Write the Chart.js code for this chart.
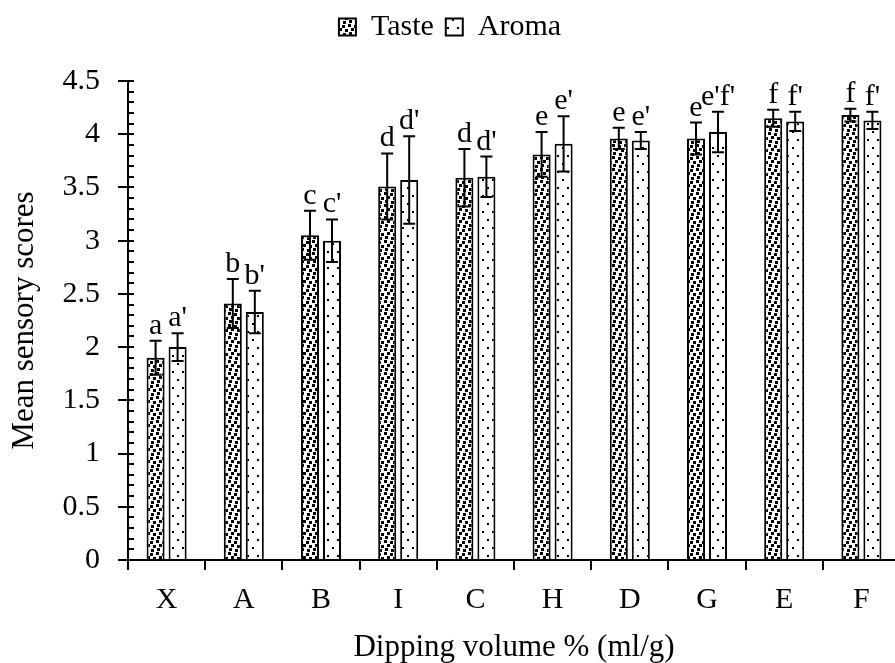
<!DOCTYPE html>
<html>
<head>
<meta charset="utf-8">
<script src="https://cdn.jsdelivr.net/npm/chart.js@4.4.1/dist/chart.umd.min.js"></script>
<style>
  html, body { margin: 0; padding: 0; background: #fff; overflow: hidden; }
  canvas { display: block; }
</style>
</head>
<body>
<canvas id="c" width="900" height="663"></canvas>
<script>
// ---- data ----
const categories = ['X', 'A', 'B', 'I', 'C', 'H', 'D', 'G', 'E', 'F'];
const tasteValues = [1.90, 2.41, 3.05, 3.51, 3.59, 3.81, 3.96, 3.96, 4.15, 4.18];
const tasteErrors = [0.16, 0.23, 0.23, 0.31, 0.27, 0.21, 0.10, 0.15, 0.08, 0.06];
const aromaValues = [2.00, 2.33, 3.00, 3.57, 3.60, 3.91, 3.94, 4.02, 4.12, 4.13];
const aromaErrors = [0.13, 0.20, 0.20, 0.41, 0.19, 0.26, 0.08, 0.19, 0.09, 0.08];
const tasteLetters = ['a', 'b', 'c', 'd', 'd', 'e', 'e', 'e', 'f', 'f'];
const aromaLetters = ["a'", "b'", "c'", "d'", "d'", "e'", "e'", "e'f'", "f'", "f'"];
const yTickValues = [0, 0.5, 1, 1.5, 2, 2.5, 3, 3.5, 4, 4.5];
const yTickLabels = ['0', '0.5', '1', '1.5', '2', '2.5', '3', '3.5', '4', '4.5'];
const seriesNames = ['Taste', 'Aroma'];
const xTitle = 'Dipping volume % (ml/g)';
const yTitle = 'Mean sensory scores';

// ---- patterns ----
function makeTastePattern() {
  const c = document.createElement('canvas');
  c.width = 12; c.height = 12;
  const g = c.getContext('2d');
  g.fillStyle = '#fff'; g.fillRect(0, 0, 12, 12);
  g.fillStyle = '#000';
  g.fillRect(0, 0, 3, 3);
  g.fillRect(6, 1, 3, 3);
  g.fillRect(3, 4, 3, 3);
  g.fillRect(9, 5, 3, 3);
  g.fillRect(1, 8, 3, 3);
  g.fillRect(7, 9, 3, 3);
  return g.createPattern(c, 'repeat');
}
function makeAromaPattern() {
  const c = document.createElement('canvas');
  c.width = 10; c.height = 16;
  const g = c.getContext('2d');
  g.fillStyle = '#fff'; g.fillRect(0, 0, 10, 16);
  g.fillStyle = '#000';
  g.fillRect(2, 3, 2, 2);
  g.fillRect(7, 11, 2, 2);
  return g.createPattern(c, 'repeat');
}

const FONT = "'Liberation Serif', 'Times New Roman', serif";
const errorSets = [tasteErrors, aromaErrors];
const letterSets = [tasteLetters, aromaLetters];

const legendFitPlugin = {
  id: 'legendFit',
  beforeLayout(chart) {
    const lg = chart.legend;
    if (lg && !lg._patched) {
      const orig = lg.fit.bind(lg);
      lg.fit = function () { orig(); this.height = 81; };
      lg._patched = true;
    }
  }
};

const decorPlugin = {
  id: 'decor',
  afterDatasetsDraw(chart) {
    const ctx = chart.ctx;
    const y = chart.scales.y;
    const area = chart.chartArea;
    ctx.save();
    // inward minor ticks every 0.1
    ctx.strokeStyle = '#000';
    ctx.lineWidth = 2;
    for (let k = 0; k <= 45; k++) {
      const py = Math.round(y.getPixelForValue(k / 10));
      ctx.beginPath();
      ctx.moveTo(area.left, py);
      ctx.lineTo(area.left + 6, py);
      ctx.stroke();
    }
    // error bars and letters
    chart.data.datasets.forEach((ds, di) => {
      const meta = chart.getDatasetMeta(di);
      meta.data.forEach((bar, j) => {
        const v = ds.data[j];
        const e = errorSets[di][j];
        const yt = y.getPixelForValue(v + e);
        const yb = y.getPixelForValue(v - e);
        const x = bar.x;
        ctx.strokeStyle = '#000';
        ctx.lineWidth = 2;
        ctx.beginPath();
        ctx.moveTo(x, yt); ctx.lineTo(x, yb);
        ctx.moveTo(x - 6, yt); ctx.lineTo(x + 6, yt);
        ctx.moveTo(x - 6, yb); ctx.lineTo(x + 6, yb);
        ctx.stroke();
        ctx.fillStyle = '#000';
        ctx.font = '30px ' + FONT;
        ctx.textAlign = 'center';
        ctx.textBaseline = 'alphabetic';
        ctx.fillText(letterSets[di][j], x, yt - 7);
      });
    });
    ctx.restore();
  }
};

const chart = new Chart(document.getElementById('c'), {
  type: 'bar',
  data: {
    labels: categories,
    datasets: [
      {
        label: seriesNames[0],
        data: tasteValues,
        backgroundColor: makeTastePattern(),
        borderColor: '#000',
        borderWidth: 2,
        categoryPercentage: 0.57,
        barPercentage: 0.82
      },
      {
        label: seriesNames[1],
        data: aromaValues,
        backgroundColor: makeAromaPattern(),
        borderColor: '#000',
        borderWidth: 2,
        categoryPercentage: 0.57,
        barPercentage: 0.82
      }
    ]
  },
  options: {
    responsive: false,
    devicePixelRatio: 1,
    animation: false,
    layout: { padding: { top: 0, left: 0, right: 0, bottom: 0 } },
    plugins: {
      legend: {
        display: true,
        position: 'top',
        labels: {
          font: { family: FONT, size: 30 },
          color: '#000',
          boxWidth: 17,
          boxHeight: 17,
          padding: 12
        }
      },
      tooltip: { enabled: false }
    },
    scales: {
      x: {
        offset: true,
        grid: {
          display: true,
          offset: true,
          drawOnChartArea: false,
          drawTicks: true,
          tickLength: 10,
          color: '#000',
          lineWidth: 2
        },
        border: { display: true, color: '#000', width: 2 },
        ticks: { font: { family: FONT, size: 30 }, color: '#000', padding: 12 },
        title: {
          display: true,
          text: xTitle,
          font: { family: FONT, size: 31 },
          color: '#000',
          padding: { top: 0, bottom: -3 }
        },
        afterFit(scale) { scale.height = 103; }
      },
      y: {
        min: 0,
        max: 4.5,
        afterBuildTicks(scale) { scale.ticks = yTickValues.map(v => ({ value: v })); },
        grid: {
          display: true,
          drawOnChartArea: false,
          drawTicks: true,
          tickLength: 10,
          color: '#000',
          lineWidth: 2
        },
        border: { display: true, color: '#000', width: 2 },
        ticks: {
          font: { family: FONT, size: 30 },
          color: '#000',
          padding: 18,
          callback: (v, i) => yTickLabels[i]
        },
        title: {
          display: true,
          text: yTitle,
          font: { family: FONT, size: 31 },
          color: '#000',
          padding: { top: 6, bottom: 0 }
        },
        afterFit(scale) { scale.width = 128; }
      }
    }
  },
  plugins: [legendFitPlugin, decorPlugin]
});
</script>
</body>
</html>
